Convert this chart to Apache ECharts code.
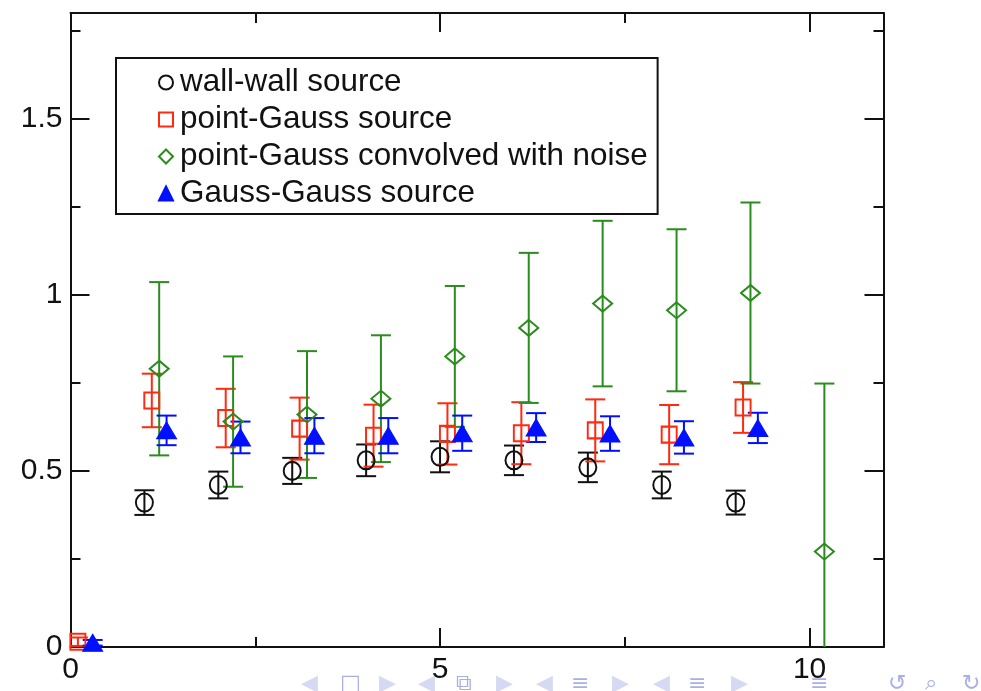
<!DOCTYPE html>
<html>
<head>
<meta charset="utf-8">
<script src="https://cdn.jsdelivr.net/npm/echarts@6/dist/echarts.min.js"></script>
<style>
  html, body { margin: 0; padding: 0; background: #fff; }
  #chart { width: 981px; height: 691px; }
</style>
</head>
<body>
<div id="chart"></div>
<script>
// wall-wall source
const wallX = [1, 2, 3, 4, 5, 6, 7, 8, 9];
const wallY = [0.41, 0.46, 0.50, 0.53, 0.54, 0.53, 0.51, 0.46, 0.41];
const wallErr = [0.035, 0.038, 0.037, 0.045, 0.044, 0.042, 0.042, 0.038, 0.034];

// point-Gauss source
const pgX = [0.1, 1.1, 2.1, 3.1, 4.1, 5.1, 6.1, 7.1, 8.1, 9.1];
const pgY = [0.015, 0.70, 0.65, 0.62, 0.60, 0.605, 0.607, 0.615, 0.603, 0.68];
const pgErr = [0.012, 0.076, 0.083, 0.088, 0.088, 0.087, 0.088, 0.088, 0.084, 0.072];

// point-Gauss convolved with noise
const noiseX = [1.2, 2.2, 3.2, 4.2, 5.2, 6.2, 7.2, 8.2, 9.2, 10.2];
const noiseY = [0.79, 0.64, 0.66, 0.705, 0.825, 0.906, 0.975, 0.956, 1.005, 0.271];
const noiseErr = [0.246, 0.185, 0.18, 0.18, 0.2, 0.213, 0.235, 0.23, 0.257, 0.477];

// Gauss-Gauss source
const ggX = [0.3, 1.3, 2.3, 3.3, 4.3, 5.3, 6.3, 7.3, 8.3, 9.3];
const ggY = [0.012, 0.615, 0.595, 0.60, 0.60, 0.607, 0.623, 0.606, 0.595, 0.622];
const ggErr = [0.008, 0.042, 0.045, 0.05, 0.05, 0.05, 0.041, 0.049, 0.046, 0.043];

const seriesNames = ['wall-wall source', 'point-Gauss source', 'point-Gauss convolved with noise', 'Gauss-Gauss source'];
const xTickLabels = ['0', '5', '10'];

const FONT = '"Liberation Sans", Arial, Helvetica, sans-serif';
const BLACK = '#111111';
const RED = '#ff2a10';
const GREEN = '#2a8c1c';
const BLUE = '#0010ff';

function errorBars(xs, ys, errs, color) {
  return {
    type: 'custom',
    clip: true,
    silent: true,
    z: 2,
    data: xs.map((x, i) => [x, ys[i] - errs[i], ys[i] + errs[i]]),
    encode: { x: 0, y: [1, 2] },
    renderItem: function (params, api) {
      const lo = api.coord([api.value(0), api.value(1)]);
      const hi = api.coord([api.value(0), api.value(2)]);
      const half = 10;
      const style = { stroke: color, lineWidth: 2, fill: null };
      return {
        type: 'group',
        children: [
          { type: 'line', shape: { x1: lo[0], y1: lo[1], x2: hi[0], y2: hi[1] }, style: style },
          { type: 'line', shape: { x1: hi[0] - half, y1: hi[1], x2: hi[0] + half, y2: hi[1] }, style: style },
          { type: 'line', shape: { x1: lo[0] - half, y1: lo[1], x2: lo[0] + half, y2: lo[1] }, style: style }
        ]
      };
    }
  };
}

function markers(name, xs, ys, symbol, size, color, filled) {
  return {
    type: 'scatter',
    name: name,
    clip: true,
    z: 3,
    symbol: symbol,
    symbolSize: size,
    data: xs.map((x, i) => [x, ys[i]]),
    itemStyle: filled
      ? { color: color, borderColor: color, borderWidth: 1, opacity: 1 }
      : { color: 'rgba(255,255,255,0)', borderColor: color, borderWidth: 2, opacity: 1 },
    emphasis: { disabled: true }
  };
}

const axisCommon = {
  min: 0,
  axisLine: { show: true, onZero: false, lineStyle: { color: BLACK, width: 2 } },
  axisTick: { show: true, inside: true, length: 19, lineStyle: { color: BLACK, width: 2 } },
  minorTick: { show: true, splitNumber: 2, length: 10, lineStyle: { color: BLACK, width: 2 } },
  splitLine: { show: false },
  minorSplitLine: { show: false }
};

const chart = echarts.init(document.getElementById('chart'), null, { renderer: 'canvas' });

// beamer-style navigation glyphs along the bottom edge
const navColorLight = '#d6d9f3';
const navColorMid = '#a9aee8';
const navItems = [
  ['◀', 311, navColorLight], ['□', 350, navColorMid], ['▶', 389, navColorLight],
  ['◀', 428, navColorLight], ['⧉', 466, navColorMid], ['▶', 506, navColorLight],
  ['◀', 546, navColorLight], ['≡', 581, navColorMid], ['▶', 622, navColorLight],
  ['◀', 663, navColorLight], ['≡', 698, navColorMid], ['▶', 741, navColorLight],
  ['≡', 820, navColorMid],
  ['↺', 898, navColorMid], ['⌕', 935, navColorMid], ['↻', 972, navColorMid]
];

chart.setOption({
  animation: false,
  backgroundColor: '#ffffff',
  grid: { left: 70.5, right: 97.5, top: 13, bottom: 44, containLabel: false },
  xAxis: [
    Object.assign({}, axisCommon, {
      type: 'value', position: 'bottom', max: 11, interval: 5,
      axisLabel: {
        show: true, margin: 8, color: BLACK, fontFamily: FONT, fontSize: 30,
        showMaxLabel: false,
        formatter: function (v) { const s = String(v); return xTickLabels.indexOf(s) >= 0 ? s : ''; }
      }
    }),
    Object.assign({}, axisCommon, {
      type: 'value', position: 'top', max: 11, interval: 5,
      axisLabel: { show: false }
    })
  ],
  yAxis: [
    Object.assign({}, axisCommon, {
      type: 'value', position: 'left', max: 1.8, interval: 0.5,
      axisLabel: {
        show: true, margin: 8, color: BLACK, fontFamily: FONT, fontSize: 30,
        showMaxLabel: false,
        formatter: function (v) { return String(v); }
      }
    }),
    Object.assign({}, axisCommon, {
      type: 'value', position: 'right', max: 1.8, interval: 0.5,
      axisLabel: { show: false }
    })
  ],
  legend: {
    orient: 'vertical',
    left: 116,
    top: 58,
    data: seriesNames,
    backgroundColor: '#ffffff',
    borderColor: BLACK,
    borderWidth: 2,
    borderRadius: 0,
    padding: [9, 10, 5, 42],
    itemWidth: 14,
    itemHeight: 14,
    itemGap: 6,
    selectedMode: false,
    textStyle: { color: BLACK, fontFamily: FONT, fontSize: 31.4, lineHeight: 30, padding: [0, 0, 0, 2] }
  },
  graphic: navItems.map(([t, x, c]) => ({
    type: 'text',
    left: x - 10,
    top: 673,
    silent: true,
    style: { text: t, fill: c, font: '22px "DejaVu Sans", sans-serif' }
  })),
  series: [
    errorBars(wallX, wallY, wallErr, BLACK),
    errorBars(pgX, pgY, pgErr, RED),
    errorBars(noiseX, noiseY, noiseErr, GREEN),
    errorBars(ggX, ggY, ggErr, BLUE),
    markers(seriesNames[0], wallX, wallY, 'circle', [17, 18], BLACK, false),
    markers(seriesNames[1], pgX, pgY, 'rect', [15, 16], RED, false),
    markers(seriesNames[2], noiseX, noiseY, 'diamond', [19, 16], GREEN, false),
    markers(seriesNames[3], ggX, ggY, 'triangle', [20, 17], BLUE, true)
  ]
});
</script>
</body>
</html>
